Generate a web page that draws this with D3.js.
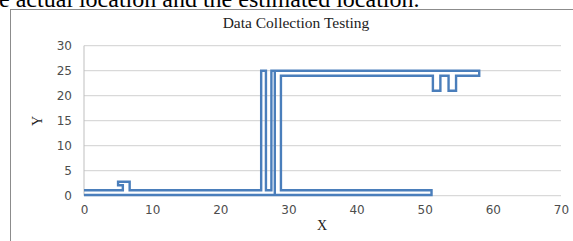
<!DOCTYPE html>
<html>
<head>
<meta charset="utf-8">
<script src="https://cdn.jsdelivr.net/npm/d3@7"></script>
<style>
  body { margin: 0; background: #fff; overflow: hidden; }
  svg { display: block; }
</style>
</head>
<body>
<script>
//chart values
var titleText = "Data Collection Testing";
var captionText = "e actual location and the estimated location.";
var xTicks = [0, 10, 20, 30, 40, 50, 60, 70];
var yTicks = [0, 5, 10, 15, 20, 25, 30];

//main traced path (x and y kept as two lists)
var pathX = [0, 5.7, 5.7, 5, 5, 6.7, 6.7, 26, 26, 26.7, 26.7, 27.5, 27.5, 58, 58,
             54.6, 54.6, 53.5, 53.5, 52.3, 52.3, 51.2, 51.2, 28.9, 28.9, 51, 51, 0];
var pathY = [1.1, 1.1, 2.1, 2.1, 2.8, 2.8, 1.1, 1.1, 25, 25, 1.1, 1.1, 25, 25, 24,
             24, 21, 21, 24, 24, 21, 21, 24, 24, 1.1, 1.1, 0.15, 0.15];

//second short piece
var pieceX = [28, 28];
var pieceY = [0.15, 25];

window.onload = drawChart();

function drawChart(){
    var width = 573,
        height = 241;

    var svg = d3.select("body")
        .append("svg")
        .attr("width", width)
        .attr("height", height);

    //document text cut off at the top
    svg.append("text")
        .attr("x", -1)
        .attr("y", 7)
        .style("font-family", "Liberation Serif, serif")
        .style("font-size", "24px")
        .style("fill", "#000")
        .text(captionText);

    //chart frame
    svg.append("rect")
        .attr("x", 10.5)
        .attr("y", 9.5)
        .attr("width", 570)
        .attr("height", 240)
        .style("fill", "none")
        .style("stroke", "#8c8c8c")
        .style("stroke-width", 1);

    svg.append("text")
        .attr("x", 296)
        .attr("y", 28)
        .attr("text-anchor", "middle")
        .style("font-family", "Liberation Serif, serif")
        .style("font-size", "15.5px")
        .style("fill", "#222")
        .text(titleText);

    var x = d3.scaleLinear().domain([0, 70]).range([84, 561]);
    var y = d3.scaleLinear().domain([0, 30]).range([195.7, 45.7]);

    //gridlines
    svg.selectAll(".grid")
        .data(yTicks)
        .enter()
        .append("line")
        .attr("class", "grid")
        .attr("x1", x(0))
        .attr("x2", x(70))
        .attr("y1", function(d){ return y(d); })
        .attr("y2", function(d){ return y(d); })
        .style("stroke", "#d9d9d9")
        .style("stroke-width", 1.3);

    //y axis line
    svg.append("line")
        .attr("x1", x(0)).attr("x2", x(0))
        .attr("y1", y(30)).attr("y2", y(0))
        .style("stroke", "#bfbfbf")
        .style("stroke-width", 1);

    var yAxis = d3.axisLeft(y).tickValues(yTicks).tickSize(0).tickPadding(12);
    var gy = svg.append("g")
        .attr("transform", "translate(" + x(0) + ",0)")
        .call(yAxis);
    gy.select(".domain").remove();

    var xAxis = d3.axisBottom(x).tickValues(xTicks).tickSize(0).tickPadding(10);
    var gx = svg.append("g")
        .attr("transform", "translate(0," + y(0) + ")")
        .call(xAxis);
    gx.select(".domain").remove();

    svg.selectAll(".tick text")
        .style("font-family", "DejaVu Sans, sans-serif")
        .style("font-size", "12px")
        .style("fill", "#4d4d4d");

    //axis titles
    svg.append("text")
        .attr("x", 322)
        .attr("y", 230)
        .attr("text-anchor", "middle")
        .style("font-family", "Liberation Serif, serif")
        .style("font-size", "14px")
        .style("fill", "#222")
        .text("X");

    svg.append("text")
        .attr("transform", "translate(42,121) rotate(-90)")
        .attr("text-anchor", "middle")
        .style("font-family", "Liberation Serif, serif")
        .style("font-size", "14px")
        .style("fill", "#222")
        .text("Y");

    var line = d3.line()
        .x(function(d){ return x(d[0]); })
        .y(function(d){ return y(d[1]); });

    var series = [d3.zip(pathX, pathY), d3.zip(pieceX, pieceY)];

    svg.selectAll(".track")
        .data(series)
        .enter()
        .append("path")
        .attr("class", "track")
        .attr("d", line)
        .style("fill", "none")
        .style("stroke", "#4a7ebb")
        .style("stroke-width", 2.4)
        .style("stroke-linejoin", "miter");
}
</script>
</body>
</html>
